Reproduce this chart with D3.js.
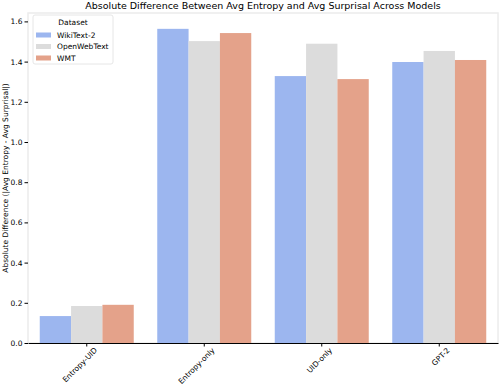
<!DOCTYPE html>
<html>
<head>
<meta charset="utf-8">
<script src="https://cdn.jsdelivr.net/npm/d3@7"></script>
<style>
  body { margin: 0; background: #fff; }
  text { font-family: "DejaVu Sans", sans-serif; }
</style>
</head>
<body>
<div id="chart"></div>
<script>
var models   = ["Entropy-UID", "Entropy-only", "UID-only", "GPT-2"];
var datasets = ["WikiText-2", "OpenWebText", "WMT"];
var colors   = ["#9cb6ef", "#dcdcdc", "#e4a28a"];
// |avg entropy - avg surprisal| per dataset, one array per model
var entropyUid  = [0.134, 0.184, 0.190];
var entropyOnly = [1.563, 1.502, 1.542];
var uidOnly     = [1.328, 1.489, 1.313];
var gpt2        = [1.398, 1.453, 1.408];
var yTicks = [0, 0.2, 0.4, 0.6, 0.8, 1.0, 1.2, 1.4, 1.6];

var values = [entropyUid, entropyOnly, uidOnly, gpt2];

var width = 500, height = 386;
var plotLeft = 28, plotRight = 498, plotTop = 13, plotBottom = 343;

var svg = d3.select("#chart").append("svg")
    .attr("width", width)
    .attr("height", height);

var x = d3.scaleBand().domain(models).range([plotLeft, plotRight]).paddingInner(0.2).paddingOuter(0.1);
var xs = d3.scaleBand().domain(datasets).range([0, x.bandwidth()]);
var y = d3.scaleLinear().domain([0, 1.6418]).range([plotBottom, plotTop]);

// frame
svg.append("rect")
    .attr("x", plotLeft).attr("y", plotTop)
    .attr("width", plotRight - plotLeft).attr("height", plotBottom - plotTop)
    .attr("fill", "none")
    .attr("stroke", "#ececec")
    .attr("stroke-width", 1.5);

// bars
var groups = svg.selectAll("g.model").data(models).enter().append("g")
    .attr("class", "model")
    .attr("transform", function(d){ return "translate(" + x(d) + ",0)"; });

groups.selectAll("rect").data(function(d, i){ return values[i]; }).enter().append("rect")
    .attr("x", function(d, j){ return xs(datasets[j]); })
    .attr("width", xs.bandwidth())
    .attr("y", function(d){ return y(d); })
    .attr("height", function(d){ return plotBottom - y(d); })
    .attr("fill", function(d, j){ return colors[j]; });

// y axis
var yAxis = svg.append("g")
    .attr("transform", "translate(" + plotLeft + ",0)")
    .call(d3.axisLeft(y).tickValues(yTicks).tickFormat(d3.format(".1f")).tickSize(3.5).tickPadding(2));
yAxis.select(".domain").remove();
yAxis.selectAll("text").style("font-size", "7.5px").attr("fill", "#000");

// x axis
var xAxis = svg.append("g")
    .attr("transform", "translate(0," + plotBottom + ")")
    .call(d3.axisBottom(x).tickSize(3.5).tickSizeOuter(0));
xAxis.select(".domain").attr("stroke", "#000").attr("stroke-width", 1.2);
xAxis.selectAll("text")
    .style("font-size", "7.5px")
    .attr("fill", "#000")
    .attr("text-anchor", "end")
    .attr("dx", "0.3em")
    .attr("dy", "0.9em")
    .attr("transform", "rotate(-45)");

// title
svg.append("text")
    .attr("x", (plotLeft + plotRight) / 2)
    .attr("y", 9)
    .attr("text-anchor", "middle")
    .style("font-size", "9.5px")
    .text("Absolute Difference Between Avg Entropy and Avg Surprisal Across Models");

// y label
svg.append("text")
    .attr("transform", "translate(8," + ((plotTop + plotBottom) / 2) + ") rotate(-90)")
    .attr("text-anchor", "middle")
    .style("font-size", "7.5px")
    .text("Absolute Difference (|Avg Entropy - Avg Surprisal|)");

// legend
var legend = svg.append("g").attr("transform", "translate(33,15)");
legend.append("rect")
    .attr("width", 80).attr("height", 49)
    .attr("rx", 2)
    .attr("fill", "#fff").attr("fill-opacity", 0.8)
    .attr("stroke", "#e0e0e0").attr("stroke-width", 0.8);
legend.append("text")
    .attr("x", 40).attr("y", 10)
    .attr("text-anchor", "middle")
    .style("font-size", "7.5px")
    .text("Dataset");
var items = legend.selectAll("g.item").data(datasets).enter().append("g")
    .attr("class", "item")
    .attr("transform", function(d, i){ return "translate(3," + (20 + i * 11.5) + ")"; });
items.append("rect")
    .attr("width", 15).attr("height", 5)
    .attr("y", -2.5)
    .attr("fill", function(d, i){ return colors[i]; });
items.append("text")
    .attr("x", 21).attr("y", 0)
    .attr("dy", "0.35em")
    .style("font-size", "7.5px")
    .text(function(d){ return d; });
</script>
</body>
</html>
